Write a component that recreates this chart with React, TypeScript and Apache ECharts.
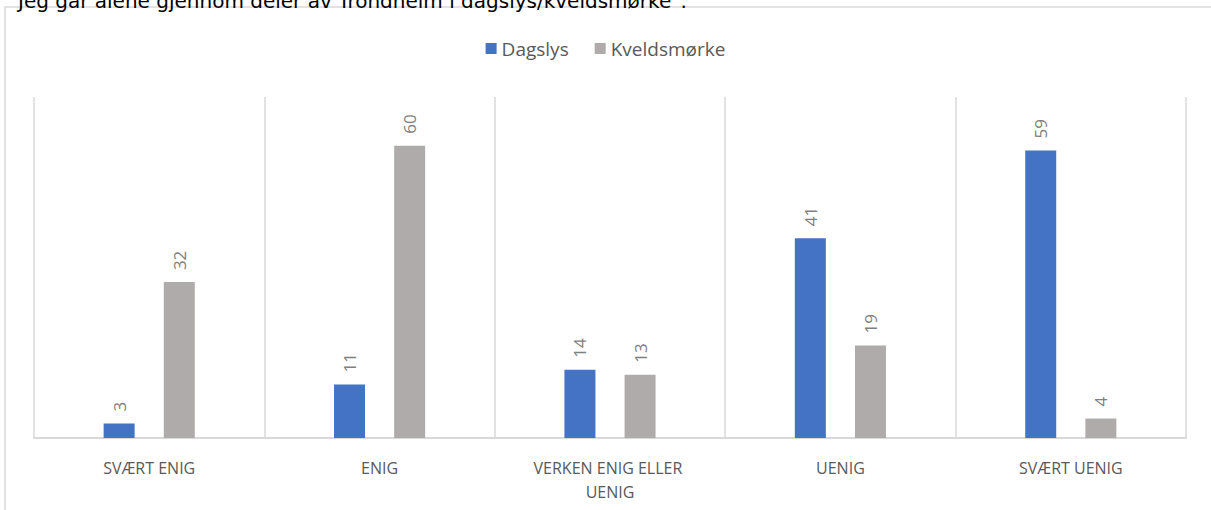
import React, { useEffect, useRef } from "react";
import * as echarts from "echarts";

const titleText = 'Jeg går alene gjennom deler av Trondheim i dagslys/kveldsmørke".';
const categories = ["SVÆRT ENIG", "ENIG", "VERKEN ENIG ELLER UENIG", "UENIG", "SVÆRT UENIG"];
const seriesNames = ["Dagslys", "Kveldsmørke"];
const dagslys = [3, 11, 14, 41, 59];
const kveldsmorke = [32, 60, 13, 19, 4];
const colors = ["#4472c4", "#afabab"];

export default function App() {
  const ref = useRef<HTMLDivElement>(null);
  useEffect(() => {
    if (!ref.current) return;
    const chart = echarts.init(ref.current, null, { renderer: "svg" });
    const label = {
      show: true,
      position: "top",
      rotate: 90,
      align: "left",
      verticalAlign: "middle",
      distance: 12,
      color: "#7f7f7f",
      fontSize: 17,
      fontFamily: "Open Sans",
    };
    chart.setOption({
      animation: false,
      backgroundColor: "#ffffff",
      graphic: [
        {
          type: "rect",
          shape: { x: 5, y: 7, width: 1230, height: 530 },
          style: { fill: "none", stroke: "#d9d9d9", lineWidth: 1.5 },
          silent: true,
        },
        {
          type: "text",
          left: 18,
          top: -9,
          style: {
            text: titleText,
            fill: "#000000",
            fontSize: 20,
            fontFamily: "DejaVu Sans",
          },
        },
      ],
      legend: {
        data: seriesNames,
        top: 34,
        left: "center",
        itemWidth: 11,
        itemHeight: 11,
        itemGap: 26,
        icon: "rect",
        textStyle: { color: "#595959", fontSize: 19, fontFamily: "Open Sans" },
      },
      grid: { left: 34, right: 25, top: 97, bottom: 72, containLabel: false },
      xAxis: {
        type: "category",
        data: categories,
        axisLine: { show: true, lineStyle: { color: "#d9d9d9", width: 2 } },
        axisTick: { show: false },
        splitLine: { show: true, lineStyle: { color: "#d9d9d9", width: 1.5 } },
        axisLabel: {
          color: "#595959",
          fontSize: 16,
          fontFamily: "Open Sans",
          margin: 18,
          lineHeight: 24,
          width: 185,
          overflow: "break",
          interval: 0,
        },
      },
      yAxis: {
        type: "value",
        min: 0,
        max: 70,
        show: false,
        splitLine: { show: false },
      },
      series: [
        {
          name: seriesNames[0],
          type: "bar",
          data: dagslys,
          barWidth: 31,
          barGap: "94%",
          itemStyle: { color: colors[0] },
          label,
        },
        {
          name: seriesNames[1],
          type: "bar",
          data: kveldsmorke,
          barWidth: 31,
          itemStyle: { color: colors[1] },
          label,
        },
      ],
    });
    return () => chart.dispose();
  }, []);
  return (
    <div
      ref={ref}
      style={{ position: "fixed", left: 0, top: 0, width: 1211, height: 510 }}
    />
  );
}
